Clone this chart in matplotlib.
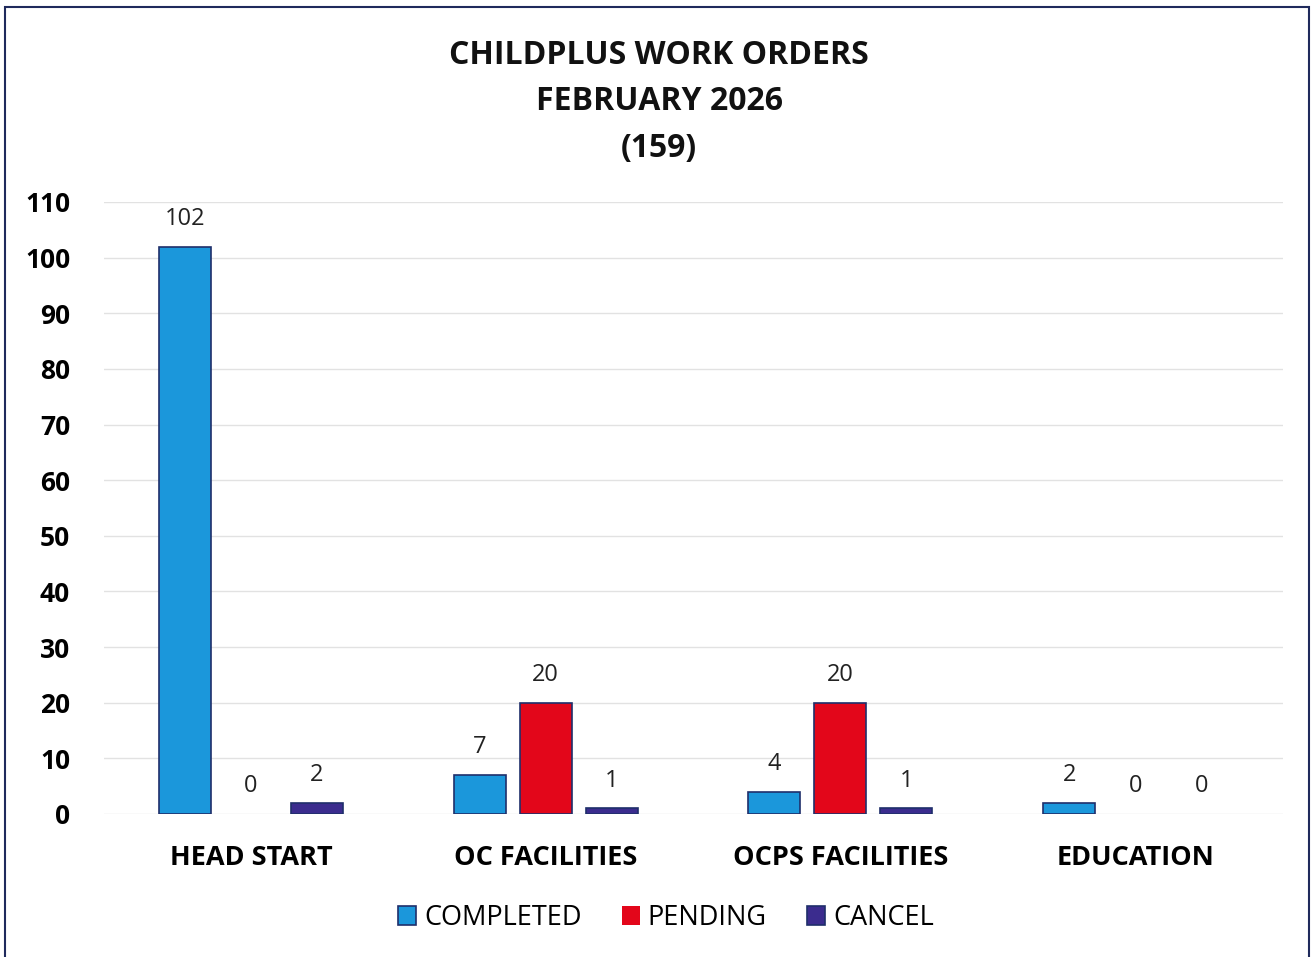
import matplotlib
matplotlib.use("Agg")
import matplotlib.pyplot as plt
from matplotlib.patches import Rectangle
import numpy as np

plt.rcParams['font.family'] = ['Open Sans', 'DejaVu Sans']

# data
categories = ['HEAD START', 'OC FACILITIES', 'OCPS FACILITIES', 'EDUCATION']
completed = [102, 7, 4, 2]
pending = [0, 20, 20, 0]
cancel = [2, 1, 1, 0]
series_names = ['COMPLETED', 'PENDING', 'CANCEL']
title_lines = ['CHILDPLUS WORK ORDERS', 'FEBRUARY 2026', '(159)']

colors = ['#1B97DB', '#E3061A', '#3B2C8E']
edge = '#1F2F6B'

W, H = 1312, 957
fig = plt.figure(figsize=(W / 100, H / 100), dpi=100)
ax = fig.add_axes([103.5 / W, 1 - 814 / H, (1282.5 - 103.5) / W, (814 - 202) / H])

x = np.arange(len(categories))
offset = 0.224
width = 0.176
for i, (vals, name) in enumerate(zip([completed, pending, cancel], series_names)):
    lw = [1.2 if v > 0 else 0 for v in vals]
    bars = ax.bar(x + (i - 1) * offset, vals, width, color=colors[i],
                  edgecolor=edge, linewidth=lw, label=name, zorder=3)
    for b, v in zip(bars, vals):
        ax.annotate(str(v), (b.get_x() + b.get_width() / 2, v),
                    xytext=(0, 20), textcoords='offset points',
                    ha='center', va='center', fontsize=17, color='#222222')

ax.set_xlim(-0.5, len(categories) - 0.5)
ax.set_ylim(0, 110)
ax.set_yticks(range(0, 111, 10))
ax.set_xticks(x)
ax.set_xticklabels(categories, fontsize=19.5, fontweight='bold')
ax.tick_params(axis='x', length=0, pad=22)
ax.tick_params(axis='y', length=0, pad=24, labelsize=19)
for t in ax.get_yticklabels():
    t.set_fontweight('bold')
ax.grid(axis='y', color='#E2E2E2', linewidth=1, zorder=0)
for s in ax.spines.values():
    s.set_visible(False)

for line, yp in zip(title_lines, [55, 101, 148]):
    fig.text(659 / W, 1 - yp / H, line, ha='center', va='center',
             fontsize=23, fontweight='bold', color='#111111')

leg = fig.legend(loc='center', bbox_to_anchor=(666 / W, 1 - 918 / H), ncol=3,
                 frameon=False, fontsize=19.5, handlelength=0.65, handleheight=0.65,
                 handletextpad=0.3, columnspacing=1.5)

fig.patches.append(Rectangle((5 / W, -0.01), (1309 - 5) / W, 1.01 - 7 / H,
                             transform=fig.transFigure, fill=False,
                             edgecolor='#1F2A5C', linewidth=1.5))

fig.savefig('out.png', dpi=100)
